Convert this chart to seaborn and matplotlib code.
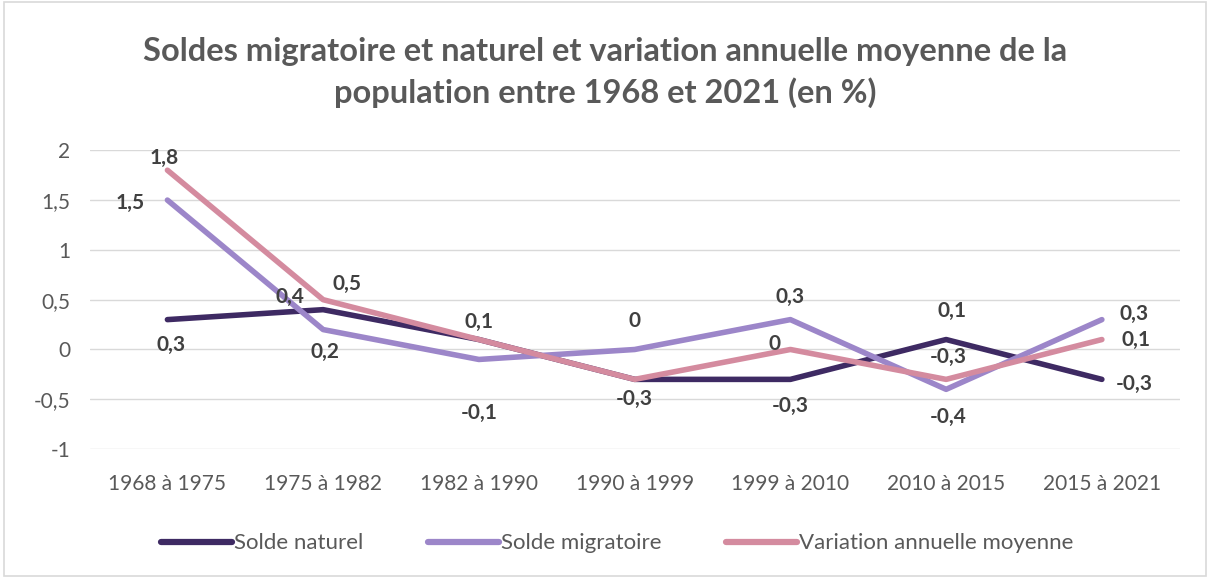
import matplotlib.pyplot as plt
import pandas as pd
import seaborn as sns

periods = ["1968 à 1975", "1975 à 1982", "1982 à 1990", "1990 à 1999",
           "1999 à 2010", "2010 à 2015", "2015 à 2021"]
solde_naturel = [0.3, 0.4, 0.1, -0.3, -0.3, 0.1, -0.3]
solde_migratoire = [1.5, 0.2, -0.1, 0.0, 0.3, -0.4, 0.3]
variation_annuelle = [1.8, 0.5, 0.1, -0.3, 0.0, -0.3, 0.1]

series_names = ["Solde naturel", "Solde migratoire", "Variation annuelle moyenne"]
colors = ["#3e2a63", "#9c86c9", "#d48b9f"]

# label offsets in pixels (dx, dy); None = label hidden behind another one
offsets = {
    "Solde naturel": [(4, -25), (-33, 13), (0, 18), (0, -20), (0, -27), (6, 29), (32, -5)],
    "Solde migratoire": [(-37, -3), (2, -22), (0, -54), (0, 28), (0, 23), (2, -28), (32, 6)],
    "Variation annuelle moyenne": [(-3, 12), (24, 16), None, None, (-16, 5), (2, 22), (34, 0)],
}

df = pd.DataFrame({
    "periode": periods * 3,
    "serie": [s for s in series_names for _ in periods],
    "valeur": solde_naturel + solde_migratoire + variation_annuelle,
    "x": list(range(len(periods))) * 3,
})

sns.set_theme(style="white")
plt.rcParams["font.family"] = ["Lato", "DejaVu Sans"]

fig = plt.figure(figsize=(12.1, 5.78), dpi=100)
ax = fig.add_axes([0.074, 0.223, 0.901, 0.517])

sns.lineplot(data=df, x="x", y="valeur", hue="serie", palette=colors,
             hue_order=series_names, linewidth=4, ax=ax, legend=False)

for name in series_names:
    sub = df[df["serie"] == name]
    for (_, row), off in zip(sub.iterrows(), offsets[name]):
        if off is None:
            continue
        v = row["valeur"]
        txt = "0" if v == 0 else f"{v:g}".replace(".", ",")
        ax.annotate(txt, (row["x"], v), xytext=off, textcoords="offset pixels",
                    ha="center", va="center", fontsize=15, fontweight="bold",
                    color="#404040")

ax.set_xlim(-0.5, len(periods) - 0.5)
ax.set_ylim(-1, 2)
ax.set_yticks([-1, -0.5, 0, 0.5, 1, 1.5, 2])
ax.set_yticklabels(["-1", "-0,5", "0", "0,5", "1", "1,5", "2"])
ax.set_xticks(range(len(periods)))
ax.set_xticklabels(periods)
ax.tick_params(axis="both", labelsize=15, colors="#595959", length=0)
ax.tick_params(axis="x", pad=18)
ax.tick_params(axis="y", pad=14)
ax.yaxis.grid(True, color="#d9d9d9", linewidth=1)
ax.set_axisbelow(True)
for s in ax.spines.values():
    s.set_visible(False)
ax.set_xlabel("")
ax.set_ylabel("")

fig.text(0.5, 0.875, "Soldes migratoire et naturel et variation annuelle moyenne de la\n"
         "population entre 1968 et 2021 (en %)", ha="center", va="center",
         fontsize=23.5, fontweight="bold", color="#595959", linespacing=1.45)

handles = [plt.Line2D([], [], color=c, linewidth=4.5, solid_capstyle="round") for c in colors]
fig.legend(handles, series_names, loc="center", bbox_to_anchor=(0.51, 0.06), ncol=3,
           frameon=False, fontsize=16, labelcolor="#595959", handlelength=3.2,
           handletextpad=0.1, columnspacing=2.9)

fig.patches.append(plt.Rectangle((0.003, 0.004), 0.994, 0.992, transform=fig.transFigure,
                                 fill=False, edgecolor="#d9d9d9", linewidth=1.2))

fig.savefig("out.png", dpi=100)
